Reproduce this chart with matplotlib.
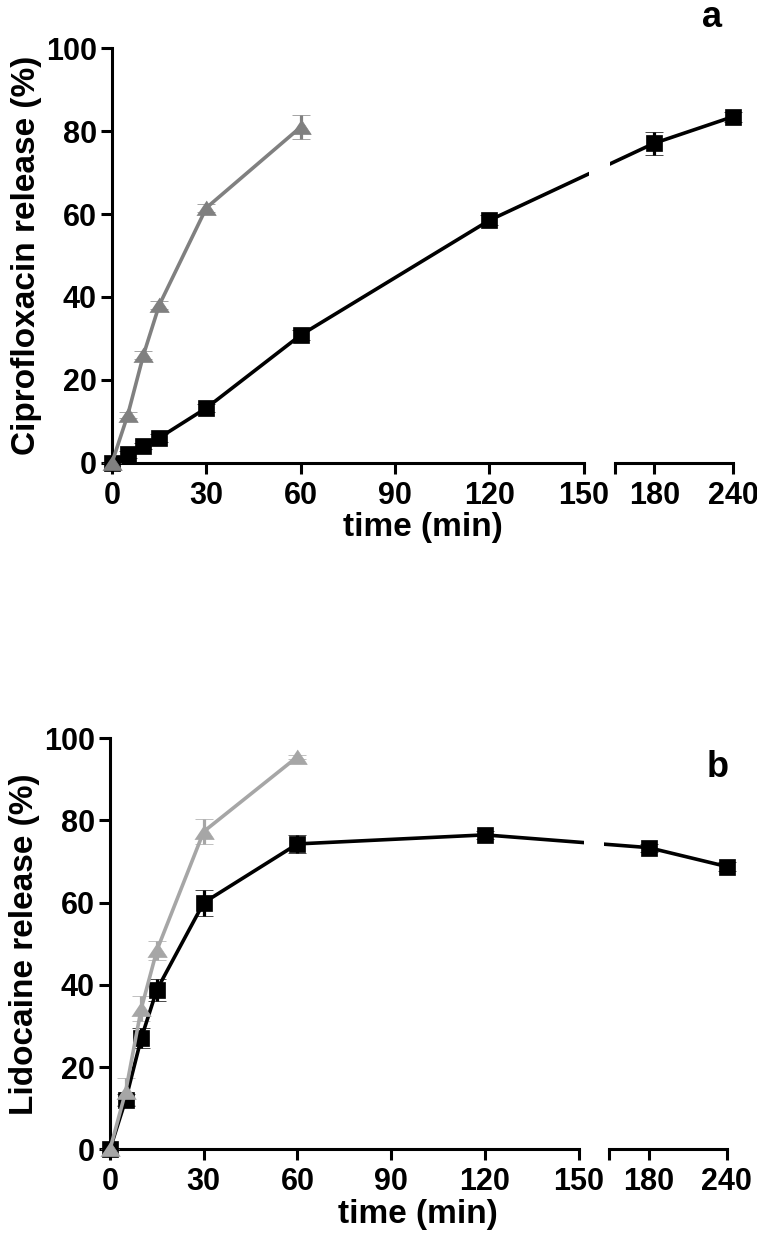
"""
Cumulative drug release curves (ciprofloxacin, lidocaine) on a broken time axis.
"""
import matplotlib
matplotlib.use('Agg')
import matplotlib.pyplot as plt
import matplotlib.transforms as mtransforms
from matplotlib.patches import Rectangle
from matplotlib.spines import Spine
import numpy as np

plt.rcParams['font.family'] = ['Liberation Sans', 'DejaVu Sans']
plt.rcParams['font.weight'] = 'bold'
plt.rcParams['axes.labelweight'] = 'bold'

# ── Data ─────────────────────────────────────────────────────────────
time_long = [0, 5, 10, 15, 30, 60, 120, 180, 240]
time_short = [0, 5, 10, 15, 30, 60]

cipro_black = [0, 2, 4, 6, 13.2, 30.8, 58.5, 77.1, 83.5]
cipro_black_err = [0, 0.8, 0.8, 1.0, 1.0, 1.2, 1.2, 2.8, 1.2]
cipro_gray = [0, 11.5, 26, 38, 61.5, 81]
cipro_gray_err = [0, 0.8, 1.0, 1.0, 1.0, 3.0]

lido_black = [0, 12.0, 27.0, 38.8, 60.0, 74.3, 76.5, 73.4, 68.8]
lido_black_err = [0, 1.5, 2.4, 2.6, 3.2, 2.2, 1.0, 1.0, 1.0]
lido_gray = [0, 14.0, 34.2, 48.4, 77.3, 95.5]
lido_gray_err = [0, 3.3, 3.1, 2.3, 3.0, 0.5]

x_ticks = [0, 30, 60, 90, 120, 150, 150.0001, 180, 240]
x_ticklabels = ['0', '30', '60', '90', '120', '150', '', '180', '240']
y_ticks = [0, 20, 40, 60, 80, 100]

# ── Broken x axis: 0-150 linear, gap, then 150-240 compressed ─────────
BREAK = 150.0
GAP = 9.9       # width of the gap, in "minutes of the first segment"
K = 0.417       # compression of the second segment
LINE_GAP = (151.6, 158.2)   # white-out of the connecting line (scaled units)


def fwd(x):
    x = np.asarray(x, dtype=float)
    return np.where(x <= BREAK, x, BREAK + GAP + (x - BREAK) * K)


def inv(p):
    p = np.asarray(p, dtype=float)
    right = BREAK + (p - BREAK - GAP) / K
    return np.where(p <= BREAK, p, np.where(p < BREAK + GAP, BREAK, right))


def panel(ax, black, black_err, gray, gray_err, gray_color, ylabel, tag, tag_xy):
    ax.set_xscale('function', functions=(fwd, inv))

    for x, y, e, col, mk, ms in [
        (time_long, black, black_err, 'black', 's', 12),
        (time_short, gray, gray_err, gray_color, [(-1, -0.72), (1, -0.72), (0, 0.78)], 14),
    ]:
        cont = ax.errorbar(x, y, yerr=e, color=col, marker=mk, ms=ms, mew=0.5,
                           mec=col, mfc=col, lw=2.6, elinewidth=2.3,
                           capsize=6.5, capthick=2.4, zorder=3)
        for art in cont.get_children():
            art.set_clip_on(False)

    # white-out where the line crosses the axis break
    trans = mtransforms.blended_transform_factory(ax.transLimits + ax.transAxes,
                                                  ax.transAxes)
    ax.add_patch(Rectangle((LINE_GAP[0], 0.0), LINE_GAP[1] - LINE_GAP[0], 1.0,
                           transform=trans, facecolor='white', edgecolor='none',
                           zorder=4))

    ax.set_xlim(0, 240)
    ax.set_ylim(0, 100)
    ax.set_xticks(x_ticks)
    ax.set_xticklabels(x_ticklabels)
    ax.set_yticks(y_ticks)

    for side in ('top', 'right'):
        ax.spines[side].set_visible(False)
    for side in ('left', 'bottom'):
        ax.spines[side].set_linewidth(2.2)
    ax.spines['bottom'].set_bounds(0, BREAK)
    seg2 = Spine.linear_spine(ax, 'bottom')
    seg2.set_linewidth(2.2)
    seg2.set_color('black')
    seg2.set_bounds(150.0001, 240)
    ax.spines['bottom2'] = seg2

    ax.tick_params(direction='out', length=8, width=2.2, labelsize=22, pad=5)
    ax.tick_params(axis='y', pad=3)
    ax.set_xlabel('time (min)', fontsize=24, labelpad=1)
    ax.set_ylabel(ylabel, fontsize=24, labelpad=3)
    ax.text(tag_xy[0], tag_xy[1], tag, transform=ax.transAxes, fontsize=26,
            ha='center', va='baseline')


fig = plt.figure(figsize=(7.57, 12.48), dpi=100)
ax_a = fig.add_axes((0.14795, 0.62925, 0.82034, 0.33205))
ax_b = fig.add_axes((0.14531, 0.07909, 0.81466, 0.32933))

panel(ax_a, cipro_black, cipro_black_err, cipro_gray, cipro_gray_err, '#808080',
      'Ciprofloxacin release (%)', 'a', (0.966, 1.0514))
panel(ax_b, lido_black, lido_black_err, lido_gray, lido_gray_err, '#a6a6a6',
      'Lidocaine release (%)', 'b', (0.986, 0.907))

fig.savefig('out.png', dpi=100)
